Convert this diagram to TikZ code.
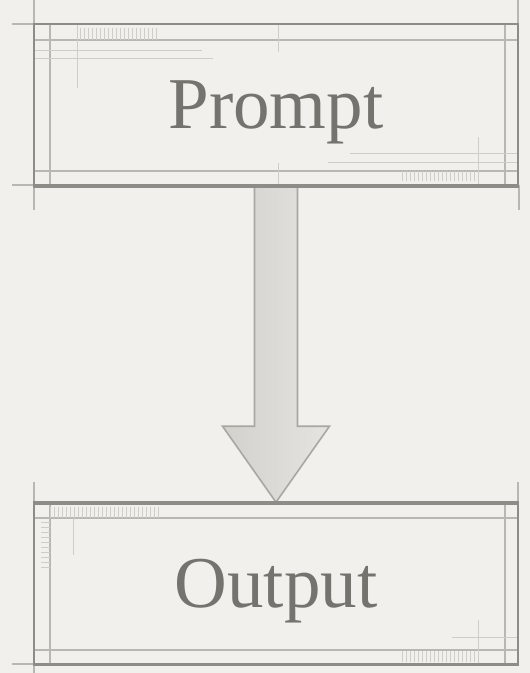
\documentclass[tikz,border=0pt]{standalone}
\usepackage{fontspec}
\setmainfont{Liberation Serif}
\usetikzlibrary{calc}

\definecolor{paper}{HTML}{F1F0EC}
\definecolor{frame}{HTML}{8E8C87}
\definecolor{guide}{HTML}{B9B7B2}
\definecolor{faint}{HTML}{CFCDC8}
\definecolor{ink}{HTML}{75736E}
\definecolor{arrowfill}{HTML}{DAD8D3}
\definecolor{arrowedge}{HTML}{A9A7A2}

\tikzset{
  box/.style={draw=frame, line width=2.6pt, minimum width=484pt, minimum height=161pt,
    inner sep=0pt, text=ink, font=\fontsize{73}{80}\selectfont,
    text height=47pt, text depth=0pt},
  guideline/.style={draw=guide, line width=1.1pt},
  faintline/.style={draw=faint, line width=1pt},
  tickline/.style={draw=faint, line width=0.9pt},
  blockarrow/.style={draw=arrowedge, line width=1.6pt, line join=miter,
    left color=arrowfill!92!gray, right color=arrowfill!70!white},
}

\begin{document}
\begin{tikzpicture}[x=1pt, y=-1pt]
  % page
  \fill[paper] (0,0) rectangle (530,673);
  \useasboundingbox (0,0) rectangle (530,673);

  % ---- drafting marks around the upper box ----
  \draw[guideline] (34,0) -- (34,24) (12,24) -- (34,24)
                   (12,185) -- (34,185) (34,185) -- (34,210)
                   (518,0) -- (518,24) (519,185) -- (519,210);
  \draw[guideline] (50,24) -- (50,185) (505,24) -- (505,185)
                   (34,40) -- (518,40) (34,171) -- (518,171);
  \draw[faintline] (34,50) -- (202,50) (34,58) -- (213,58) (77,24) -- (77,88)
                   (278,24) -- (278,52) (278,163) -- (278,185)
                   (350,153) -- (518,153) (328,162) -- (518,162)
                   (478,137) -- (478,185);
  \foreach \t in {80,84,...,156} \draw[tickline] (\t,28) -- (\t,40);
  \foreach \t in {402,406,...,476} \draw[tickline] (\t,171) -- (\t,181);

  % ---- drafting marks around the lower box ----
  \draw[guideline] (34,482) -- (34,504) (518,482) -- (518,504)
                   (12,664) -- (34,664) (34,664) -- (34,673);
  \draw[guideline] (50,504) -- (50,664) (505,504) -- (505,664)
                   (34,518) -- (518,518) (34,650) -- (518,650);
  \draw[faintline] (73,518) -- (73,555)
                   (478,620) -- (478,664) (452,637) -- (518,637);
  \foreach \t in {50,54,...,158} \draw[tickline] (\t,507) -- (\t,518);
  \foreach \t in {522,527,...,570} \draw[tickline] (41,\t) -- (50,\t);
  \foreach \t in {402,406,...,478} \draw[tickline] (\t,651) -- (\t,662);

  % ---- boxes ----
  \node[box] (prompt) at (276,104.5) {Prompt};
  \node[box] (output) at (276,584) {Output};

  % ---- block arrow from prompt to output ----
  \path[blockarrow]
    ($(prompt.south)+(-21.5,0)$) -- ($(output.north)+(-21.5,-76)$)
    -- ($(output.north)+(-53.5,-76)$) -- (output.north)
    -- ($(output.north)+(53.5,-76)$) -- ($(output.north)+(21.5,-76)$)
    -- ($(prompt.south)+(21.5,0)$) -- cycle;
  % redraw the frame edges the arrow touches
  \draw[frame, line width=2.6pt] (prompt.south west) -- (prompt.south east)
                                 (output.north west) -- (output.north east);
\end{tikzpicture}
\end{document}
